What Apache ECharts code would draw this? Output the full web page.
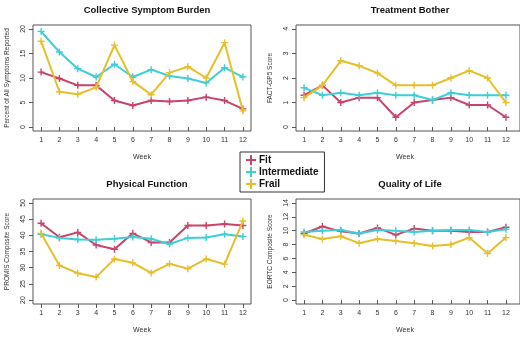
<!DOCTYPE html>
<html>
<head>
<meta charset="utf-8">
<script src="https://cdn.jsdelivr.net/npm/echarts@6/dist/echarts.min.js"></script>
<style>
html, body { margin: 0; padding: 0; background: #fff; }
#chart { width: 520px; height: 337px; }
</style>
</head>
<body>
<div id="chart"></div>
<script>
var weeks = [1, 2, 3, 4, 5, 6, 7, 8, 9, 10, 11, 12];
var groups = ['Fit', 'Intermediate', 'Frail'];
var colors = ['#c9436b', '#3dcfd5', '#e6bf2a'];

// Collective Symptom Burden (percent of all symptoms reported)
var burdenFit = [11.2, 9.9, 8.5, 8.5, 5.4, 4.4, 5.4, 5.2, 5.4, 6.1, 5.4, 3.7];
var burdenInt = [19.5, 15.3, 11.9, 10.2, 12.8, 10.2, 11.7, 10.4, 9.9, 9.0, 12.1, 10.2];
var burdenFrail = [17.5, 7.2, 6.7, 8.1, 16.7, 9.3, 6.6, 11.1, 12.3, 10.0, 17.2, 3.3];

// Treatment Bother (FACT-GP5)
var botherFit = [1.3, 1.7, 1.0, 1.2, 1.2, 0.4, 1.0, 1.1, 1.2, 0.9, 0.9, 0.4];
var botherInt = [1.6, 1.3, 1.4, 1.3, 1.4, 1.3, 1.3, 1.1, 1.4, 1.3, 1.3, 1.3];
var botherFrail = [1.2, 1.7, 2.7, 2.5, 2.2, 1.7, 1.7, 1.7, 2.0, 2.3, 2.0, 1.0];

// Physical Function (PROMIS composite)
var physFit = [43.7, 39.4, 40.9, 37.0, 35.7, 40.6, 37.8, 37.8, 43.0, 43.0, 43.5, 43.0];
var physInt = [40.3, 39.2, 38.7, 38.6, 38.9, 39.5, 38.9, 37.3, 39.2, 39.3, 40.3, 39.6];
var physFrail = [40.6, 30.7, 28.3, 27.1, 32.7, 31.5, 28.4, 31.2, 29.7, 32.7, 31.1, 44.4];

// Quality of Life (EORTC composite)
var qolFit = [9.6, 10.6, 9.9, 9.6, 10.4, 9.4, 10.3, 10.0, 10.0, 9.8, 9.8, 10.5];
var qolInt = [9.8, 10.0, 10.1, 9.6, 10.1, 10.0, 9.8, 10.0, 10.1, 10.1, 9.8, 10.2];
var qolFrail = [9.4, 8.8, 9.2, 8.2, 8.8, 8.5, 8.2, 7.8, 8.0, 9.0, 6.7, 9.0];

// right-hand panels run off the edge of the picture, so their box is wider
var panels = [
	{ title: 'Collective Symptom Burden', yName: 'Percent of All Symptoms Reported',
		yTicks: [0, 5, 10, 15, 20], yMin: 0, yMax: 20, data: [burdenFit, burdenInt, burdenFrail],
		grid: { left: 33, top: 25, width: 218, height: 106 }, extra: 0 },
	{ title: 'Treatment Bother', yName: 'FACT-GP5 Score',
		yTicks: [0, 1, 2, 3, 4], yMin: 0, yMax: 4, data: [botherFit, botherInt, botherFrail],
		grid: { left: 296, top: 25, width: 224, height: 106 }, extra: 6 },
	{ title: 'Physical Function', yName: 'PROMIS Composite Score',
		yTicks: [20, 25, 30, 35, 40, 45, 50], yMin: 20, yMax: 50, data: [physFit, physInt, physFrail],
		grid: { left: 33, top: 199, width: 218, height: 105 }, extra: 0 },
	{ title: 'Quality of Life', yName: 'EORTC Composite Score',
		yTicks: [0, 2, 4, 6, 8, 10, 12, 14], yMin: 0, yMax: 14, data: [qolFit, qolInt, qolFrail],
		grid: { left: 296, top: 199, width: 224, height: 105 }, extra: 6 }
];

var plusIcon = 'path://M4,0h2v4h4v2h-4v4h-2v-4h-4v-2h4z';
var tickFont = { fontFamily: 'Liberation Sans', fontSize: 7, color: '#333' };

var grids = [], xAxes = [], yAxes = [], titles = [], series = [];

panels.forEach(function (p, i) {
	grids.push(Object.assign({ show: true, borderColor: '#555', borderWidth: 1, backgroundColor: 'transparent' }, p.grid));
	titles.push({
		text: p.title,
		left: p.grid.left + 109,
		top: p.grid.top - 25,
		textAlign: 'center',
		textStyle: { fontFamily: 'Liberation Sans', fontSize: 9.5, fontWeight: 'bold', color: '#111' }
	});
	// R style: extend range by 4% each side
	var xPad = (12 - 1) * 0.04;
	var xScale = 218 / (11 + 2 * xPad);
	var yPad = (p.yMax - p.yMin) * 0.04;
	xAxes.push({
		type: 'value', gridIndex: i, min: 1 - xPad, max: 12 + xPad + p.extra / xScale,
		name: 'Week', nameLocation: 'middle', nameGap: 23,
		nameTextStyle: { fontFamily: 'Liberation Sans', fontSize: 7, color: '#333', padding: [0, p.extra, 0, 0] },
		axisLine: { show: false },
		splitLine: { show: false },
		axisTick: { show: true, inside: false, length: 4, customValues: weeks, lineStyle: { color: '#555' } },
		axisLabel: Object.assign({ margin: 6, customValues: weeks }, tickFont)
	});
	yAxes.push({
		type: 'value', gridIndex: i, min: p.yMin - yPad, max: p.yMax + yPad,
		name: p.yName, nameLocation: 'middle', nameGap: 22, nameRotate: 90,
		nameTextStyle: { fontFamily: 'Liberation Sans', fontSize: 6.5, color: '#333' },
		axisLine: { show: false },
		splitLine: { show: false },
		axisTick: { show: true, inside: false, length: 4, customValues: p.yTicks, lineStyle: { color: '#555' } },
		axisLabel: Object.assign({ margin: 6, rotate: 90, customValues: p.yTicks }, tickFont)
	});
	p.data.forEach(function (vals, g) {
		series.push({
			name: groups[g],
			type: 'line',
			xAxisIndex: i,
			yAxisIndex: i,
			data: weeks.map(function (w, k) { return [w, vals[k]]; }),
			symbol: plusIcon,
			symbolSize: 7,
			showAllSymbol: true,
			lineStyle: { color: colors[g], width: 2 },
			itemStyle: { color: colors[g] },
			emphasis: { disabled: true },
			z: 2 + g
		});
	});
});

var mainChart = echarts.init(document.getElementById('chart'));
mainChart.setOption({
	animation: false,
	color: colors,
	title: titles,
	grid: grids,
	xAxis: xAxes,
	yAxis: yAxes,
	legend: {
		data: groups,
		orient: 'vertical',
		left: 240,
		top: 152,
		padding: [3, 6, 3, 6],
		itemGap: 2,
		itemWidth: 10,
		itemHeight: 10,
		icon: plusIcon,
		selectedMode: false,
		borderColor: '#333',
		borderWidth: 1,
		backgroundColor: '#fff',
		textStyle: { fontFamily: 'Liberation Sans', fontSize: 10, fontWeight: 'bold', color: '#111', padding: [0, 0, 0, -2] },
		z: 10
	},
	series: series
});
</script>
</body>
</html>
